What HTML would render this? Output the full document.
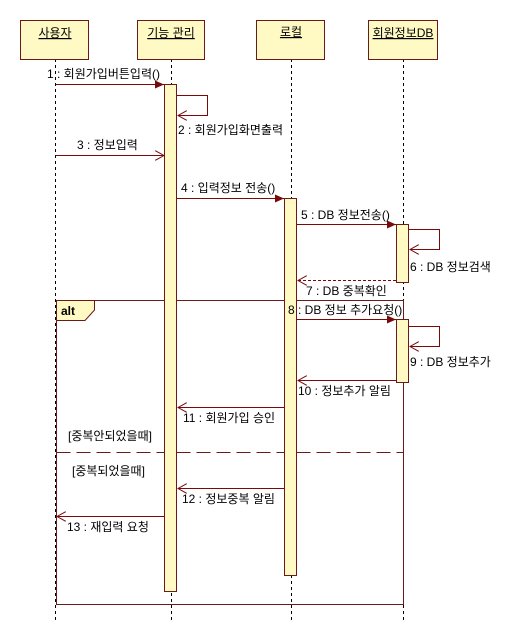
<!DOCTYPE html>
<html><head><meta charset="utf-8"><style>
html,body{margin:0;padding:0;background:#fff;width:509px;height:644px;overflow:hidden}
svg text{font-family:"Liberation Sans","Noto Sans CJK KR","NanumGothic",sans-serif;font-size:12px;fill:#000}
</style></head><body>
<svg width="509" height="644" viewBox="0 0 509 644" xmlns="http://www.w3.org/2000/svg">
<defs>
<marker id="f" markerWidth="10" markerHeight="8" refX="9" refY="4" orient="auto" markerUnits="userSpaceOnUse"><path d="M0,0 L9,4 L0,8 Z" fill="#7a0a0a"/></marker>
<marker id="o" markerWidth="10" markerHeight="10" refX="9" refY="5" orient="auto" markerUnits="userSpaceOnUse"><path d="M0,0 L9,5 L0,10" fill="none" stroke="#7a0a0a" stroke-width="1"/></marker>
</defs>
<g stroke="#000" stroke-dasharray="3,3" stroke-width="1">
<line x1="55.5" y1="59" x2="55.5" y2="622"/>
<line x1="171.5" y1="59" x2="171.5" y2="622"/>
<line x1="291.5" y1="59" x2="291.5" y2="622"/>
<line x1="403.5" y1="59" x2="403.5" y2="622"/>
</g>
<g fill="#fff9c4" stroke="#6b1a1a" stroke-width="1">
<rect x="20.5" y="20.5" width="68" height="39"/>
<rect x="137.5" y="20.5" width="67" height="39"/>
<rect x="256.5" y="20.5" width="68" height="39"/>
<rect x="368.5" y="20.5" width="69" height="39"/>
</g>
<g text-anchor="middle">
<text x="55" y="37" text-decoration="underline">사용자</text>
<text x="171" y="37" text-decoration="underline">기능 관리</text>
<text x="291" y="36" text-decoration="underline">로컬</text>
<text x="403" y="37" text-decoration="underline">회원정보DB</text>
</g>
<g fill="none" stroke="#6b1a1a" stroke-width="1">
<rect x="56.5" y="300.5" width="347" height="304"/>
<path d="M56.5,300.5 H94.5 V310 L85,320.5 H56.5 Z" fill="#fff9c4"/>
<line x1="56.5" y1="452.5" x2="403.5" y2="452.5" stroke-dasharray="14,6"/>
</g>
<text x="61" y="315" font-weight="bold">alt</text>
<g fill="#fff9c4" stroke="#6b1a1a" stroke-width="1">
<rect x="164.5" y="84.5" width="12" height="507"/>
<rect x="284.5" y="198.5" width="12" height="377"/>
<rect x="396.5" y="224.5" width="12" height="58"/>
<rect x="396.5" y="319.5" width="12" height="63"/>
</g>
<g stroke="#7a0a0a" stroke-width="1" fill="none">
<line x1="56" y1="84.5" x2="164" y2="84.5" marker-end="url(#f)"/>
<polyline points="177,95.5 207.5,95.5 207.5,115.5 178,115.5" marker-end="url(#o)"/>
<line x1="56" y1="155.5" x2="164" y2="155.5" marker-end="url(#o)"/>
<line x1="177" y1="198.5" x2="284" y2="198.5" marker-end="url(#f)"/>
<line x1="297" y1="224.5" x2="396" y2="224.5" marker-end="url(#f)"/>
<polyline points="409,229.5 439.5,229.5 439.5,249.5 410,249.5" marker-end="url(#o)"/>
<line x1="396" y1="280.5" x2="298" y2="280.5" stroke-dasharray="3,2" marker-end="url(#o)"/>
<line x1="297" y1="319.5" x2="396" y2="319.5" marker-end="url(#f)"/>
<polyline points="409,326.5 439.5,326.5 439.5,346.5 410,346.5" marker-end="url(#o)"/>
<line x1="396" y1="380.5" x2="298" y2="380.5" marker-end="url(#o)"/>
<line x1="284" y1="407.5" x2="178" y2="407.5" marker-end="url(#o)"/>
<line x1="284" y1="488.5" x2="178" y2="488.5" marker-end="url(#o)"/>
<line x1="164" y1="516.5" x2="57" y2="516.5" marker-end="url(#o)"/>
</g>
<text x="47" y="78">1 : 회원가입버튼입력()</text>
<text x="178" y="134">2 : 회원가입화면출력</text>
<text x="77" y="149">3 : 정보입력</text>
<text x="181" y="192">4 : 입력정보 전송()</text>
<text x="301" y="219">5 : DB 정보전송()</text>
<text x="410" y="271">6 : DB 정보검색</text>
<text x="306" y="295">7 : DB 중복확인</text>
<text x="288" y="314">8 : DB 정보 추가요청()</text>
<text x="410" y="366">9 : DB 정보추가</text>
<text x="298" y="395">10 : 정보추가 알림</text>
<text x="183" y="422">11 : 회원가입 승인</text>
<text x="68" y="440">[중복안되었을때]</text>
<text x="72" y="475">[중복되었을때]</text>
<text x="182" y="503">12 : 정보중복 알림</text>
<text x="67" y="531">13 : 재입력 요청</text>
</svg>
</body></html>
